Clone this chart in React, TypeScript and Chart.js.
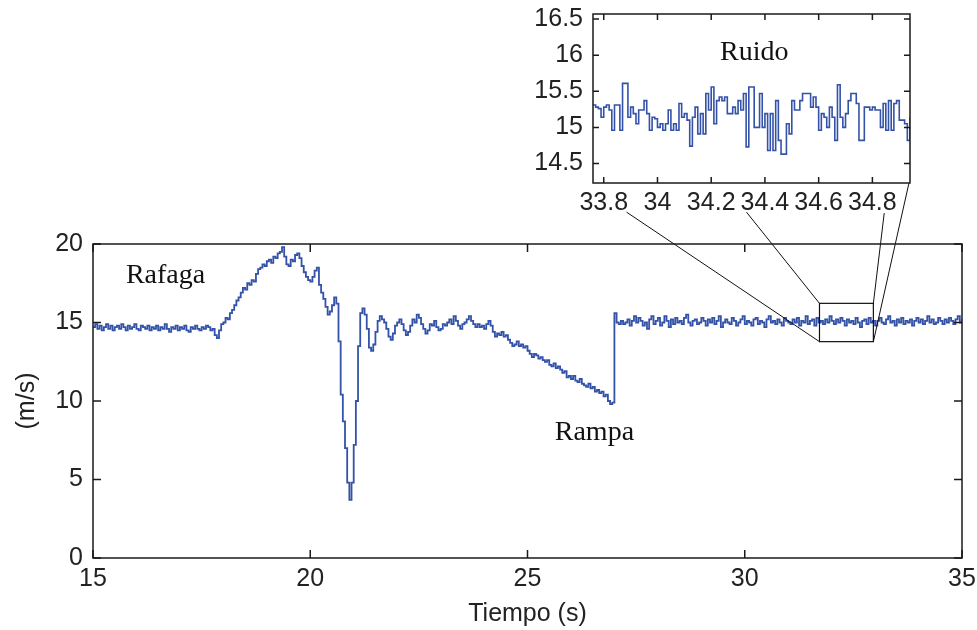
import React, { useEffect, useRef } from 'react';
import { Chart, registerables } from 'chart.js';

Chart.register(...registerables);

// ---------- Main signal: wind speed (m/s), sampled every 0.05 s from t = 15 s ----------
const MAIN_T0 = 15;
const MAIN_DT = 0.05;
const MAIN_VALUES = [
  // 15.00 - 17.85 s : steady wind
  14.7, 14.9, 14.6, 14.8, 14.5, 14.7, 14.9, 14.6, 14.8, 14.5,
  14.7, 14.8, 14.6, 14.9, 14.7, 14.5, 14.8, 14.6, 14.7, 14.9,
  14.6, 14.5, 14.8, 14.7, 14.6, 14.8, 14.5, 14.7, 14.6, 14.8,
  14.5, 14.7, 14.6, 14.9, 14.6, 14.4, 14.7, 14.6, 14.8, 14.5,
  14.7, 14.6, 14.8, 14.5, 14.4, 14.7, 14.6, 14.8, 14.6, 14.5,
  14.7, 14.6, 14.8, 14.7, 14.5, 14.6, 14.2, 14.0,
  // 17.90 - 26.95 s : gust, dip and ramp
  14.5, 14.9, 15.0, 15.3, 15.2, 15.6, 15.8, 16.1, 16.4, 16.6,
  16.9, 17.2, 17.1, 17.5, 17.4, 17.7, 17.6, 18.1, 18.4, 18.5,
  18.7, 18.6, 18.9, 19.0, 18.8, 19.2, 19.1, 19.4, 19.5, 19.8,
  19.2, 18.7, 18.6, 19.0, 18.9, 19.3, 19.4, 19.1, 18.6, 18.2,
  17.9, 17.7, 17.6, 17.9, 18.3, 18.5, 17.4, 16.9, 16.5, 16.0,
  15.5, 15.7, 16.1, 16.6, 16.2, 13.8, 10.4, 8.7, 7.0, 4.8,
  3.7, 4.8, 7.2, 10.0, 13.5, 15.6, 15.9, 15.5, 14.6, 13.4,
  13.2, 13.6, 14.4, 15.1, 15.4, 15.2, 15.0, 14.6, 14.1, 13.9,
  14.3, 14.8, 15.0, 15.2, 14.9, 14.5, 14.2, 14.4, 14.8, 15.2,
  15.0, 15.5, 15.3, 14.9, 14.6, 14.3, 14.5, 14.9, 14.8, 15.1,
  14.7, 14.5, 14.6, 14.9, 14.8, 15.0, 15.2, 14.9, 15.4, 15.1,
  14.8, 14.6, 14.9, 15.0, 15.2, 15.4, 15.1, 14.9, 14.7, 14.9,
  14.7, 14.8, 14.6, 14.9, 15.1, 14.8, 14.4, 14.1, 14.3, 14.2,
  14.4, 14.1, 14.2, 13.9, 13.7, 13.5, 13.6, 13.8, 13.5, 13.6,
  13.4, 13.5, 13.2, 13.0, 12.8, 13.0, 12.9, 12.7, 12.8, 12.6,
  12.5, 12.6, 12.3, 12.2, 12.4, 12.1, 12.2, 12.0, 11.8, 11.9,
  11.5, 11.6, 11.4, 11.6, 11.3, 11.2, 11.4, 11.1, 11.0, 10.9,
  11.1, 10.8, 10.9, 10.6, 10.7, 10.5, 10.6, 10.3, 10.4, 10.0,
  9.8, 9.9,
  // 27.00 s : step back up
  15.6,
  // 27.05 - 35.00 s : steady wind with noise
  15.0, 14.9, 15.1, 14.9, 15.0, 15.2, 14.8, 15.1, 15.4, 15.0,
  15.3, 15.1, 14.8, 15.0, 14.6, 15.2, 15.4, 14.9, 15.1, 15.3,
  14.8, 15.0, 15.4, 15.1, 14.7, 15.2, 14.9, 15.3, 15.0, 15.1,
  14.9, 15.3, 15.5, 15.0, 14.8, 15.1, 15.2, 14.9, 15.0, 15.3,
  15.1, 14.8, 15.2, 15.0, 15.3, 14.9, 15.1, 15.4, 14.7, 15.0,
  15.2, 15.0, 14.9, 15.3, 15.1, 14.8, 15.0, 15.2, 15.4, 14.9,
  15.1, 15.0, 14.8, 15.2, 15.3, 14.9, 15.1, 15.0, 14.7, 15.2,
  15.4, 15.0, 15.1, 14.9, 15.2, 15.0, 14.8, 15.3, 15.1, 15.0,
  14.9, 15.2, 15.0, 15.3, 14.8, 15.1, 15.0, 15.4, 14.9, 15.1,
  15.2, 14.8, 15.3, 15.0, 15.1, 14.9, 15.2, 15.0, 15.4, 15.1,
  14.9, 15.2, 15.0, 15.3, 15.1, 14.8, 15.2, 15.0, 15.1, 14.9,
  15.3, 15.0, 14.7, 15.1, 15.2, 14.9, 15.3, 15.0, 15.1, 14.8,
  15.1, 15.3, 15.0, 14.9, 15.2, 15.4, 15.0, 15.1, 14.8, 15.2,
  15.0, 15.3, 14.9, 15.1, 15.0, 15.2, 14.8, 15.1, 15.3, 15.0,
  15.2, 14.9, 15.1, 15.4, 15.0, 15.2, 14.9, 15.0, 15.3, 15.1,
  14.9, 15.2, 15.0, 15.3, 15.1, 14.9, 15.2, 15.4, 15.0, 15.2,
];
const MAIN_X_TICKS = [15, 20, 25, 30, 35];
const MAIN_Y_TICKS = [0, 5, 10, 15, 20];
const MAIN_X_RANGE = [15, 35];
const MAIN_Y_RANGE = [0, 20];

// ---------- Inset "Ruido": sampled every 0.01 s from t = 33.76 s ----------
const INSET_T0 = 33.76;
const INSET_DT = 0.01;
const INSET_VALUES = [
  15.31, 15.28, 15.26, 15.14, 15.28, 15.31, 15.24, 14.96, 15.31, 15.31,
  14.96, 15.61, 15.61, 15.14, 15.28, 15.19, 15.05, 15.24, 15.24, 15.37,
  15.19, 14.96, 15.14, 15.12, 15.00, 15.05, 14.96, 15.05, 15.24, 14.96,
  15.05, 14.96, 15.33, 15.14, 15.19, 15.10, 14.74, 15.14, 15.28, 14.91,
  15.19, 14.91, 15.47, 15.24, 15.56, 15.05, 15.37, 15.42, 15.37, 15.42,
  15.19, 15.19, 15.28, 15.19, 15.37, 15.24, 15.47, 14.73, 15.56, 15.56,
  15.00, 15.00, 15.47, 15.00, 15.19, 14.68, 15.19, 14.68, 15.37, 14.82,
  14.63, 14.63, 15.05, 14.91, 15.37, 15.24, 15.24, 15.37, 15.47, 15.47,
  15.47, 15.28, 15.42, 15.28, 14.96, 15.19, 15.14, 15.00, 15.28, 15.14,
  14.82, 15.59, 15.14, 15.00, 15.19, 15.37, 15.47, 15.47, 15.33, 14.82,
  14.82, 15.28, 15.28, 15.24, 15.28, 15.24, 15.24, 15.00, 15.33, 14.96,
  15.37, 14.96, 15.33, 15.37, 15.10, 15.10, 15.05, 14.82, 15.14,
];
const INSET_X_TICKS = [33.8, 34, 34.2, 34.4, 34.6, 34.8];
const INSET_Y_TICKS = [14.5, 15, 15.5, 16, 16.5];
const INSET_X_RANGE = [33.76, 34.94];
const INSET_Y_RANGE = [14.23, 16.57];

// ---------- Annotations (in main-axis data units) ----------
const ZOOM_BOX_X = [31.72, 32.96];
const ZOOM_BOX_Y = [13.78, 16.22];
const CONNECTOR_FROM = [[27.28, 22.03], [30.04, 22.03], [33.21, 21.97], [33.78, 23.89]];
const CONNECTOR_TO = [[31.72, 13.78], [31.72, 16.22], [32.96, 16.22], [32.96, 13.78]];
const MAIN_LABELS = [
  { text: 'Rafaga', x: 16.67, y: 17.52 },
  { text: 'Rampa', x: 26.54, y: 7.52 },
];
const INSET_LABELS = [{ text: 'Ruido', x: 34.36, y: 15.93 }];

const LINE_COLOR = '#3352a8';
const SANS = "'Liberation Sans', Arial, sans-serif";
const SERIF = "'Liberation Serif', 'Times New Roman', serif";

const toPoints = (t0: number, dt: number, vals: number[]) =>
  vals.map((v, i) => ({ x: +(t0 + i * dt).toFixed(4), y: v }));

const framePlugin = {
  id: 'frame',
  afterDraw(chart: any, _args: any, opts: any) {
    const { ctx, chartArea, scales } = chart;
    const { left, right, top, bottom } = chartArea;
    const L = opts.tickLen || 8;
    ctx.save();
    ctx.strokeStyle = '#1a1a1a';
    ctx.lineWidth = 1.5;
    ctx.beginPath();
    for (const t of scales.x.ticks) {
      const px = scales.x.getPixelForValue(t.value);
      ctx.moveTo(px, bottom); ctx.lineTo(px, bottom - L);
      ctx.moveTo(px, top); ctx.lineTo(px, top + L);
    }
    for (const t of scales.y.ticks) {
      const py = scales.y.getPixelForValue(t.value);
      ctx.moveTo(left, py); ctx.lineTo(left + L, py);
      ctx.moveTo(right, py); ctx.lineTo(right - L, py);
    }
    ctx.stroke();
    ctx.strokeRect(left, top, right - left, bottom - top);
    ctx.restore();
  },
};

const notesPlugin = {
  id: 'notes',
  afterDatasetsDraw(chart: any, _args: any, opts: any) {
    const { ctx, scales } = chart;
    const X = (v: number) => scales.x.getPixelForValue(v);
    const Y = (v: number) => scales.y.getPixelForValue(v);
    ctx.save();
    if (opts.box) {
      ctx.strokeStyle = '#111';
      ctx.lineWidth = 1.2;
      ctx.strokeRect(X(opts.box.x[0]), Y(opts.box.y[1]), X(opts.box.x[1]) - X(opts.box.x[0]), Y(opts.box.y[0]) - Y(opts.box.y[1]));
      ctx.beginPath();
      opts.from.forEach((p: number[], i: number) => {
        ctx.moveTo(X(p[0]), Y(p[1]));
        ctx.lineTo(X(opts.to[i][0]), Y(opts.to[i][1]));
      });
      ctx.lineWidth = 1;
      ctx.stroke();
    }
    ctx.fillStyle = '#111';
    ctx.font = `28px ${SERIF}`;
    ctx.textAlign = 'center';
    ctx.textBaseline = 'alphabetic';
    for (const l of opts.labels) ctx.fillText(l.text, X(l.x), Y(l.y));
    ctx.restore();
  },
};

function makeConfig(o: any) {
  const tickFont = { family: SANS, size: 25 };
  return {
    type: 'line',
    data: {
      datasets: [{
        data: o.points,
        borderColor: LINE_COLOR,
        borderWidth: o.lineW,
        pointRadius: 0,
        stepped: true,
        fill: false,
      }],
    },
    options: {
      animation: false,
      responsive: false,
      events: [],
      layout: { padding: o.padding },
      plugins: {
        legend: { display: false },
        tooltip: { enabled: false },
        frame: { tickLen: o.tickLen },
        notes: { labels: o.labels, box: o.box, from: o.from, to: o.to },
      },
      scales: {
        x: {
          type: 'linear',
          min: o.xRange[0],
          max: o.xRange[1],
          afterBuildTicks: (s: any) => { s.ticks = o.xTicks.map((v: number) => ({ value: v })); },
          afterFit: (s: any) => { s.height = o.xAxisH; s.paddingLeft = 0; s.paddingRight = 0; },
          grid: { display: false, drawTicks: false, tickLength: 0 },
          border: { display: false },
          ticks: { autoSkip: false, maxRotation: 0, padding: o.xPad, color: '#222', font: tickFont, callback: (v: any) => String(v) },
          title: o.xTitle ? { display: true, text: o.xTitle, color: '#222', font: tickFont, padding: { top: 0, bottom: 1 } } : { display: false },
        },
        y: {
          type: 'linear',
          min: o.yRange[0],
          max: o.yRange[1],
          afterBuildTicks: (s: any) => { s.ticks = o.yTicks.map((v: number) => ({ value: v })); },
          afterFit: (s: any) => { s.width = 93; s.paddingTop = 0; s.paddingBottom = 0; },
          grid: { display: false, drawTicks: false, tickLength: 0 },
          border: { display: false },
          ticks: { autoSkip: false, padding: 10, color: '#222', font: tickFont, callback: (v: any) => String(v) },
          title: o.yTitle ? { display: true, text: o.yTitle, color: '#222', font: tickFont, padding: { top: 12, bottom: 0 } } : { display: false },
        },
      },
    },
    plugins: [framePlugin, notesPlugin],
  } as any;
}

export default function App() {
  const mainRef = useRef<HTMLCanvasElement>(null);
  const insetRef = useRef<HTMLCanvasElement>(null);

  useEffect(() => {
    const main = new Chart(mainRef.current!, makeConfig({
      points: toPoints(MAIN_T0, MAIN_DT, MAIN_VALUES),
      xRange: MAIN_X_RANGE, yRange: MAIN_Y_RANGE,
      xTicks: MAIN_X_TICKS, yTicks: MAIN_Y_TICKS,
      padding: { top: 244, right: 15, left: 0, bottom: 0 },
      xAxisH: 72, xPad: 6, tickLen: 8, lineW: 1.8,
      xTitle: 'Tiempo (s)', yTitle: '(m/s)',
      labels: MAIN_LABELS,
      box: { x: ZOOM_BOX_X, y: ZOOM_BOX_Y },
      from: CONNECTOR_FROM, to: CONNECTOR_TO,
    }));
    const inset = new Chart(insetRef.current!, makeConfig({
      points: toPoints(INSET_T0, INSET_DT, INSET_VALUES),
      xRange: INSET_X_RANGE, yRange: INSET_Y_RANGE,
      xTicks: INSET_X_TICKS, yTicks: INSET_Y_TICKS,
      padding: { top: 14, right: 20, left: 0, bottom: 0 },
      xAxisH: 32, xPad: 5, tickLen: 6, lineW: 1.6,
      labels: INSET_LABELS,
    }));
    return () => { main.destroy(); inset.destroy(); };
  }, []);

  return (
    <div style={{ position: 'fixed', left: 0, top: 0, width: 977, height: 630, background: '#fff' }}>
      <canvas ref={mainRef} width={977} height={630} style={{ position: 'absolute', left: 0, top: 0, width: 977, height: 630 }} />
      <canvas ref={insetRef} width={430} height={215} style={{ position: 'absolute', left: 500, top: 0, width: 430, height: 215 }} />
    </div>
  );
}
